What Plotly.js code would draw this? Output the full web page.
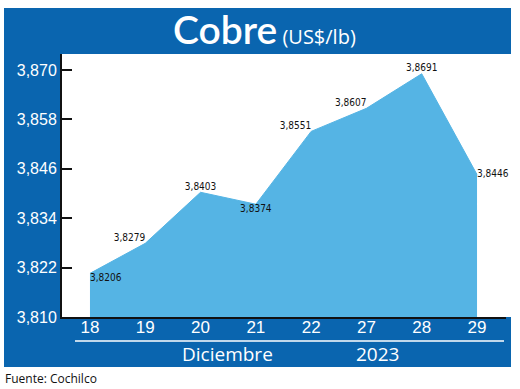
<!DOCTYPE html>
<html>
<head>
<meta charset="utf-8">
<script src="https://cdn.plot.ly/plotly-3.0.1.min.js"></script>
<style>html,body{margin:0;padding:0;background:#fff;}#chart{width:520px;height:389px;}</style>
</head>
<body>
<div id="chart"></div>
<script>
// Data
const days = ['18', '19', '20', '21', '22', '27', '28', '29'];
const prices = [3.8206, 3.8279, 3.8403, 3.8374, 3.8551, 3.8607, 3.8691, 3.8446];
const priceLabels = ['3,8206', '3,8279', '3,8403', '3,8374', '3,8551', '3,8607', '3,8691', '3,8446'];
const labelPositions = ['bottom right', 'top left', 'top center', 'bottom center', 'top left', 'top left', 'top center', 'middle right'];
const yTicks = [3.810, 3.822, 3.834, 3.846, 3.858, 3.870];
const yTickLabels = ['3,810', '3,822', '3,834', '3,846', '3,858', '3,870'];

const W = 520, H = 389;
const M = {l: 62, r: 14, t: 54, b: 72};
const PW = W - M.l - M.r, PH = H - M.t - M.b;
const px = x => (x - M.l) / PW;
const py = y => (H - M.b - y) / PH;

const BLUE = '#0a65af';
const FILL = '#55b4e4';
const NUM_FONT = '"Liberation Sans", Arial, sans-serif';
const LABEL_FONT = '"DejaVu Sans Condensed", "Liberation Sans Narrow", "Liberation Sans", sans-serif';

const trace = {
  x: days,
  y: prices,
  type: 'scatter',
  mode: 'lines+text',
  fill: 'tozeroy',
  fillcolor: FILL,
  line: {color: FILL, width: 1},
  text: priceLabels,
  textposition: labelPositions,
  textfont: {family: LABEL_FONT, size: 10, color: '#111'},
  hoverinfo: 'skip',
  cliponaxis: false
};

const layout = {
  width: W, height: H,
  margin: M,
  paper_bgcolor: '#ffffff',
  plot_bgcolor: 'rgba(0,0,0,0)',
  showlegend: false,
  xaxis: {
    type: 'category',
    range: [-0.506, 7.524],
    showgrid: false, zeroline: false,
    showline: true, linecolor: '#111', linewidth: 2,
    ticks: '',
    ticklabelstandoff: -6,
    tickfont: {family: NUM_FONT, size: 17, color: '#ffffff'},
    fixedrange: true
  },
  yaxis: {
    range: [3.810, 3.8739],
    showgrid: false, zeroline: false,
    showline: true, linecolor: '#111', linewidth: 2,
    ticks: 'inside', ticklen: 10, tickwidth: 2, tickcolor: '#111',
    tickvals: yTicks, ticktext: yTickLabels,
    tickfont: {family: NUM_FONT, size: 16, color: '#ffffff'},
    fixedrange: true
  },
  shapes: [
    {type: 'rect', xref: 'paper', yref: 'paper', layer: 'below',
     x0: px(4), x1: px(511), y0: py(367), y1: py(8),
     fillcolor: BLUE, line: {width: 0}},
    {type: 'rect', xref: 'paper', yref: 'paper', layer: 'below',
     x0: px(61), x1: px(511), y0: py(317), y1: py(54),
     fillcolor: '#ffffff', line: {width: 0}},
    {type: 'line', xref: 'paper', yref: 'paper',
     x0: px(75), x1: px(504), y0: py(341), y1: py(341),
     line: {color: '#ffffff', width: 1.5}}
  ],
  annotations: [
    {xref: 'paper', yref: 'paper', x: px(264), y: py(29), xanchor: 'center', yanchor: 'middle',
     showarrow: false,
     text: '<span style="font-family:Lato, Open Sans, sans-serif;font-size:39px;font-weight:600">Cobre</span> (US$/lb)',
     font: {family: '"Open Sans", sans-serif', size: 20, color: '#ffffff'}},
    {xref: 'paper', yref: 'paper', x: px(227), y: py(354), xanchor: 'center', yanchor: 'middle',
     showarrow: false, text: 'Diciembre',
     font: {family: '"Open Sans", sans-serif', size: 19, color: '#ffffff'}},
    {xref: 'paper', yref: 'paper', x: px(377), y: py(354), xanchor: 'center', yanchor: 'middle',
     showarrow: false, text: '2023',
     font: {family: '"Open Sans", sans-serif', size: 19, color: '#ffffff'}},
    {xref: 'paper', yref: 'paper', x: px(3), y: py(378), xanchor: 'left', yanchor: 'middle',
     showarrow: false, text: 'Fuente: Cochilco',
     font: {family: '"Open Sans", sans-serif', size: 12, color: '#111'}}
  ]
};

Plotly.newPlot('chart', [trace], layout, {displayModeBar: false, staticPlot: true});
</script>
</body>
</html>
